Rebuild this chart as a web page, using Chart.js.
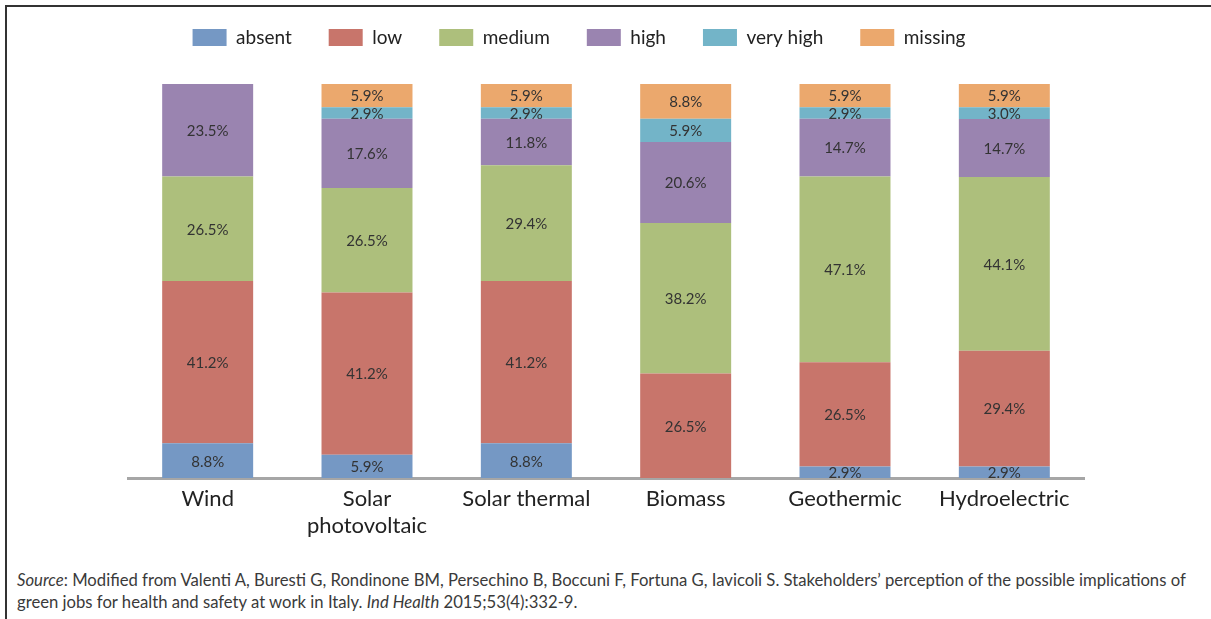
<!DOCTYPE html>
<html><head><meta charset="utf-8">
<script src="https://cdn.jsdelivr.net/npm/chart.js@4/dist/chart.umd.min.js"></script>
<style>
html,body{margin:0;padding:0;background:#fff;width:1211px;height:619px;overflow:hidden;font-family:Lato,'Open Sans',sans-serif}
#frame{position:absolute;left:5px;top:5px;width:1206px;height:614px;border-top:2px solid #333;border-left:2px solid #333;box-sizing:border-box}
#wrap{position:absolute;left:0;top:0;width:1211px;height:560px}
#src{position:absolute;left:17px;top:569px;font-size:16.5px;line-height:22px;color:#3a3a3a;white-space:nowrap}
</style></head>
<body>
<div id="frame"></div>
<div id="wrap"><canvas id="c" width="1211" height="560"></canvas></div>
<div id="src"><span id="l1"><i>Source</i>: Modified from Valenti A, Buresti G, Rondinone BM, Persechino B, Boccuni F, Fortuna G, Iavicoli S. Stakeholders’ perception of the possible implications of</span><br>green jobs for health and safety at work in Italy. <i>Ind Health</i> 2015;53(4):332-9.</div>
<script>
const categories = [['Wind'], ['Solar', 'photovoltaic'], ['Solar thermal'], ['Biomass'], ['Geothermic'], ['Hydroelectric']];
const seriesNames = ['absent', 'low', 'medium', 'high', 'very high', 'missing'];
const absent   = [8.8, 5.9, 8.8, 0, 2.9, 2.9];
const low      = [41.2, 41.2, 41.2, 26.5, 26.5, 29.4];
const medium   = [26.5, 26.5, 29.4, 38.2, 47.1, 44.1];
const high     = [23.5, 17.6, 11.8, 20.6, 14.7, 14.7];
const veryHigh = [0, 2.9, 2.9, 5.9, 2.9, 3.0];
const missing  = [0, 5.9, 5.9, 8.8, 5.9, 5.9];
const colors = ['#7598C4', '#C8756B', '#ADBF7C', '#9A84B0', '#73B4C8', '#EBA86D'];

const seriesData = [absent, low, medium, high, veryHigh, missing];
const FONT = 'Lato';

// fit the source line width to the reference's line length
(function () {
  const l1 = document.getElementById('l1');
  const src = document.getElementById('src');
  const w = l1.getBoundingClientRect().width;
  const target = 1169;
  src.style.fontSize = (16.5 * target / w).toFixed(2) + 'px';
})();

const segLabels = {
  id: 'segLabels',
  afterDatasetsDraw(chart) {
    const ctx = chart.ctx;
    ctx.save();
    ctx.font = '15px ' + FONT;
    ctx.fillStyle = '#333';
    ctx.textAlign = 'center';
    ctx.textBaseline = 'middle';
    chart.data.datasets.forEach((ds, i) => {
      const meta = chart.getDatasetMeta(i);
      meta.data.forEach((bar, j) => {
        const v = ds.data[j];
        if (!v) return;
        const p = bar.getProps(['x', 'y', 'base'], true);
        ctx.fillText(v.toFixed(1) + '%', p.x, (p.y + p.base) / 2 + 1);
      });
    });
    ctx.restore();
  }
};

const legendTweak = {
  id: 'legendTweak',
  beforeInit(chart) {
    const lg = chart.legend;
    const origFit = lg.fit;
    lg.fit = function () {
      origFit.call(this);
      this.height = 66;
    };
    const origDraw = lg.draw;
    lg.draw = function (...a) {
      const c = this.ctx;
      c.save();
      c.translate(-27, -27);
      origDraw.apply(this, a);
      c.restore();
    };
  }
};

new Chart(document.getElementById('c'), {
  type: 'bar',
  data: {
    labels: categories,
    datasets: seriesNames.map((n, i) => ({
      label: n,
      data: seriesData[i],
      backgroundColor: colors[i],
      borderWidth: 0,
      categoryPercentage: 1,
      barPercentage: 0.571
    }))
  },
  options: {
    responsive: false,
    animation: false,
    layout: { padding: { top: 18, left: 128, right: 127, bottom: 22 } },
    plugins: {
      legend: {
        position: 'top',
        labels: {
          boxWidth: 34, boxHeight: 17, padding: 37,
          color: '#222', font: { family: FONT, size: 19 }
        }
      },
      tooltip: { enabled: false }
    },
    scales: {
      x: {
        stacked: true,
        grid: { display: false, drawTicks: false },
        border: { display: true, color: '#A6A6A6', width: 3 },
        ticks: { color: '#222', padding: 8, font: { family: FONT, size: 22 }, maxRotation: 0, autoSkip: false },
        afterFit(s) { s.height = 60; }
      },
      y: {
        stacked: true, display: false, min: 0, max: 100
      }
    }
  },
  plugins: [segLabels, legendTweak]
});
</script>
</body></html>
